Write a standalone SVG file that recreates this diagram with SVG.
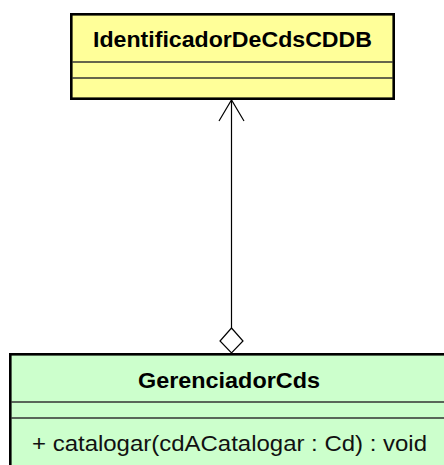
<svg xmlns="http://www.w3.org/2000/svg" width="444" height="465" viewBox="0 0 444 465">
  <style>
    .box { stroke: #000; stroke-width: 2.6; }
    .sep { stroke: #333; stroke-width: 1.5; }
    .name { font-family: "Liberation Sans", Arial, sans-serif; font-weight: bold; font-size: 21.5px; fill: #000; }
    .member { font-family: "Liberation Sans", Arial, sans-serif; font-size: 22px; fill: #111; }
    .conn { stroke: #000; stroke-width: 1.2; fill: none; }
  </style>
  <rect width="444" height="465" fill="#fff"/>

  <!-- connector: aggregation from GerenciadorCds to IdentificadorDeCdsCDDB -->
  <g id="connectors">
    <line class="conn" x1="231.5" y1="100" x2="231.5" y2="328"/>
    <polyline class="conn" points="219,121 231.5,100 244,121"/>
    <polygon points="231.5,328 243,341 231.5,353 220,341" fill="#fff" stroke="#000" stroke-width="1.2"/>
  </g>

  <g id="IdentificadorDeCdsCDDB">
    <rect class="box" x="71.3" y="14.3" width="322.4" height="84.4" fill="#ffff99"/>
    <line class="sep" x1="72" y1="62" x2="393" y2="62"/>
    <line class="sep" x1="72" y1="78" x2="393" y2="78"/>
    <text class="name" x="93" y="47" textLength="279" lengthAdjust="spacingAndGlyphs">IdentificadorDeCdsCDDB</text>
  </g>

  <g id="GerenciadorCds">
    <rect class="box" x="10.3" y="354.3" width="450" height="130" fill="#ccffcc"/>
    <line class="sep" x1="11" y1="402" x2="444" y2="402"/>
    <line class="sep" x1="11" y1="418" x2="444" y2="418"/>
    <text class="name" x="138" y="388" textLength="182" lengthAdjust="spacingAndGlyphs">GerenciadorCds</text>
    <text class="member" x="32" y="451" textLength="395" lengthAdjust="spacingAndGlyphs">+ catalogar(cdACatalogar : Cd) : void</text>
  </g>
</svg>
